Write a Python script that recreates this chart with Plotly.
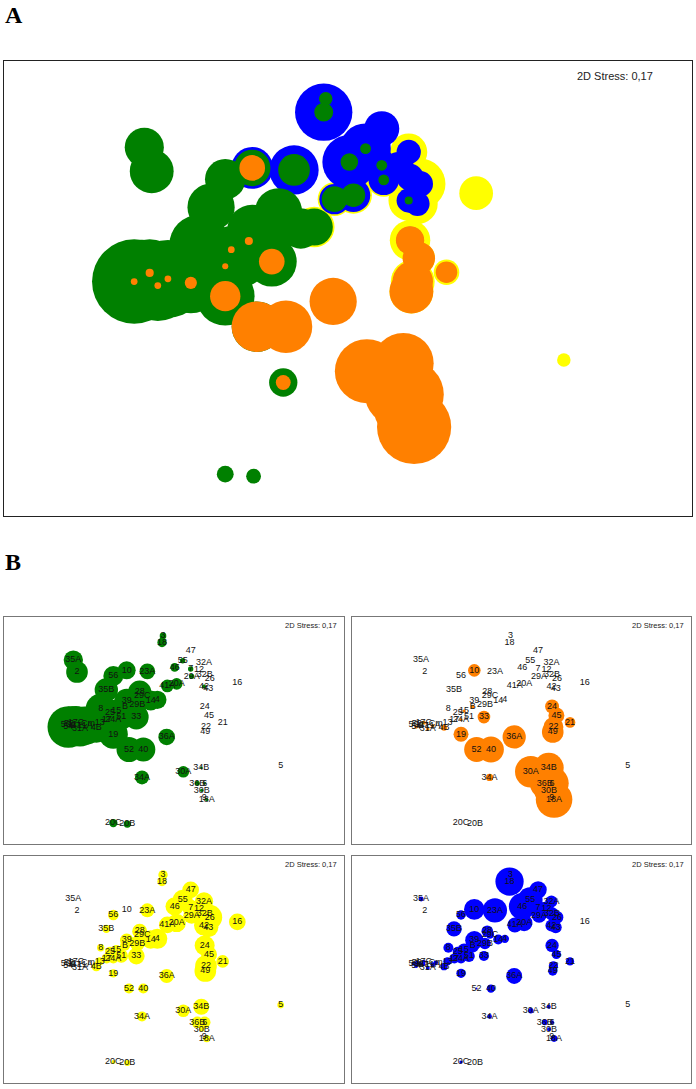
import plotly.graph_objects as go

W, H = 696, 1089
labels = ["3","18","47","55","32A","46","7","12","29A","32B","26","16","41A","20A","42","43","23A","10","56","35A","2","35B",
          "28","29C","39","14","4","29B","B","24","45","21","33","8","15","25","51","17","13","22","49","19","36A","52","40",
          "5","34B","30A","34A","36B","6","30B","18A","9","20C","20B","50","53","54","11","27","17C","31A","Cm","11A","4B","24A"]
xs = [487,484,570,546,610,522,570,595,573,612,627,710,500,528,610,623,440,378,338,218,229,317,
      417,425,378,450,470,410,373,612,625,666,407,300,347,328,362,318,297,616,614,338,498,385,428,
      840,602,548,424,590,612,603,618,611,338,380,195,205,203,215,225,226,238,262,253,287,338]
ys = [75,95,120,150,155,170,175,178,197,193,203,217,226,220,228,233,182,179,196,148,184,238,
      245,255,272,270,268,282,289,288,315,336,320,295,302,307,320,327,336,350,365,372,380,418,418,
      468,473,485,502,520,520,541,569,562,640,643,343,340,350,343,345,337,356,340,346,352,327]
green = [20,28,0,16,0,26,16,0,16,0,0,0,38,35,12,0,47,54,60,58,65,70,
         70,50,74,60,55,60,70,0,0,0,74,90,70,70,75,70,80,0,0,87,50,75,72,
         0,8,35,42,15,8,10,10,0,25,22,60,60,125,110,105,100,105,90,115,90,70]
orange = [0,0,0,0,0,0,0,0,0,0,0,0,0,0,0,0,0,38,0,0,0,0,
          0,0,0,0,0,0,12,42,48,32,38,0,10,0,0,0,0,60,65,45,70,75,78,
          0,90,95,22,90,100,90,110,0,0,0,0,0,10,0,0,12,10,0,10,18,9]
yellow = [28,28,50,60,55,55,50,50,50,65,75,50,50,55,60,60,42,0,32,0,0,25,
          45,35,40,55,60,45,30,60,48,38,50,22,30,30,40,30,25,65,65,25,42,30,30,
          20,48,38,30,35,35,15,22,0,12,18,0,0,0,0,0,0,0,0,0,28,30]
blue = [40,85,52,75,36,80,45,45,45,40,38,0,45,50,36,36,73,62,28,15,0,46,
        35,25,55,30,25,35,40,40,28,25,30,30,40,30,35,30,25,28,28,28,48,6,25,
        0,12,16,14,18,12,12,20,0,10,0,12,12,12,12,12,12,12,14,14,22,30]
YELLOW, BLUE, GREEN, ORANGE = "#ffff00", "#0000ff", "#008000", "#ff8000"
panels = [("", 4, 692, 61, 516), (green, 4, 344, 617, 844), (orange, 352, 691, 617, 844),
          (yellow, 4, 344, 856, 1083), (blue, 352, 691, 856, 1083)]
panel_colors = ["", GREEN, ORANGE, YELLOW, BLUE]

fig = go.Figure()
layout = dict(width=W, height=H, margin=dict(l=0, r=0, t=0, b=0), paper_bgcolor="white", plot_bgcolor="white",
              showlegend=False, font=dict(family="Liberation Sans", color="#111111"), annotations=[])

def add_axes(i, x0, x1, y0, y1, lw, col):
    s = "" if i == 0 else str(i + 1)
    ax = dict(range=[10, 1030], domain=[x0 / W, x1 / W], anchor="y" + s, showgrid=False, zeroline=False,
              showticklabels=False, ticks="", showline=True, mirror=True, linecolor=col, linewidth=lw)
    ay = dict(range=[703, 18], domain=[1 - y1 / H, 1 - y0 / H], anchor="x" + s, showgrid=False, zeroline=False,
              showticklabels=False, ticks="", showline=True, mirror=True, linecolor=col, linewidth=lw)
    layout["xaxis" + s] = ax
    layout["yaxis" + s] = ay
    return "x" + s, "y" + s

for i, (vals, x0, x1, y0, y1) in enumerate(panels):
    big = i == 0
    xa, ya = add_axes(i, x0, x1, y0, y1, 1.2 if big else 1, "#222222" if big else "#777777")
    k = (x1 - x0) / 1020
    if big:
        for v, c in ((yellow, YELLOW), (blue, BLUE), (green, GREEN), (orange, ORANGE)):
            fig.add_trace(go.Scatter(x=xs, y=ys, mode="markers", xaxis=xa, yaxis=ya, hoverinfo="skip",
                                     marker=dict(size=[d * k for d in v], color=c, opacity=1, line_width=0)))
    else:
        fig.add_trace(go.Scatter(x=xs, y=ys, mode="markers", xaxis=xa, yaxis=ya, hoverinfo="skip",
                                 marker=dict(size=[d * k for d in vals], color=panel_colors[i], opacity=1, line_width=0)))
        fig.add_trace(go.Scatter(x=xs, y=ys, text=labels, mode="text", xaxis=xa, yaxis=ya, hoverinfo="skip",
                                 textfont=dict(size=9, color="#111111"), textposition="middle center"))
    layout["annotations"].append(dict(text="2D Stress: 0,17", xref=xa + " domain", yref=ya + " domain",
                                      x=0.946 if big else 0.985, y=0.984 if big else 0.993, xanchor="right", yanchor="top",
                                      showarrow=False, font=dict(size=11 if big else 7.5, color="#222222")))

for t, y in (("A", 15), ("B", 562)):
    layout["annotations"].append(dict(text="<b>%s</b>" % t, xref="paper", yref="paper", x=3 / W, y=1 - y / H,
                                      xanchor="left", yanchor="middle", showarrow=False,
                                      font=dict(family="Liberation Serif", size=24, color="#000000")))
fig.update_layout(**layout)
fig.write_html("out.html", config=dict(displayModeBar=False),
               post_script="document.body.style.margin='0';document.body.style.overflow='hidden';")
